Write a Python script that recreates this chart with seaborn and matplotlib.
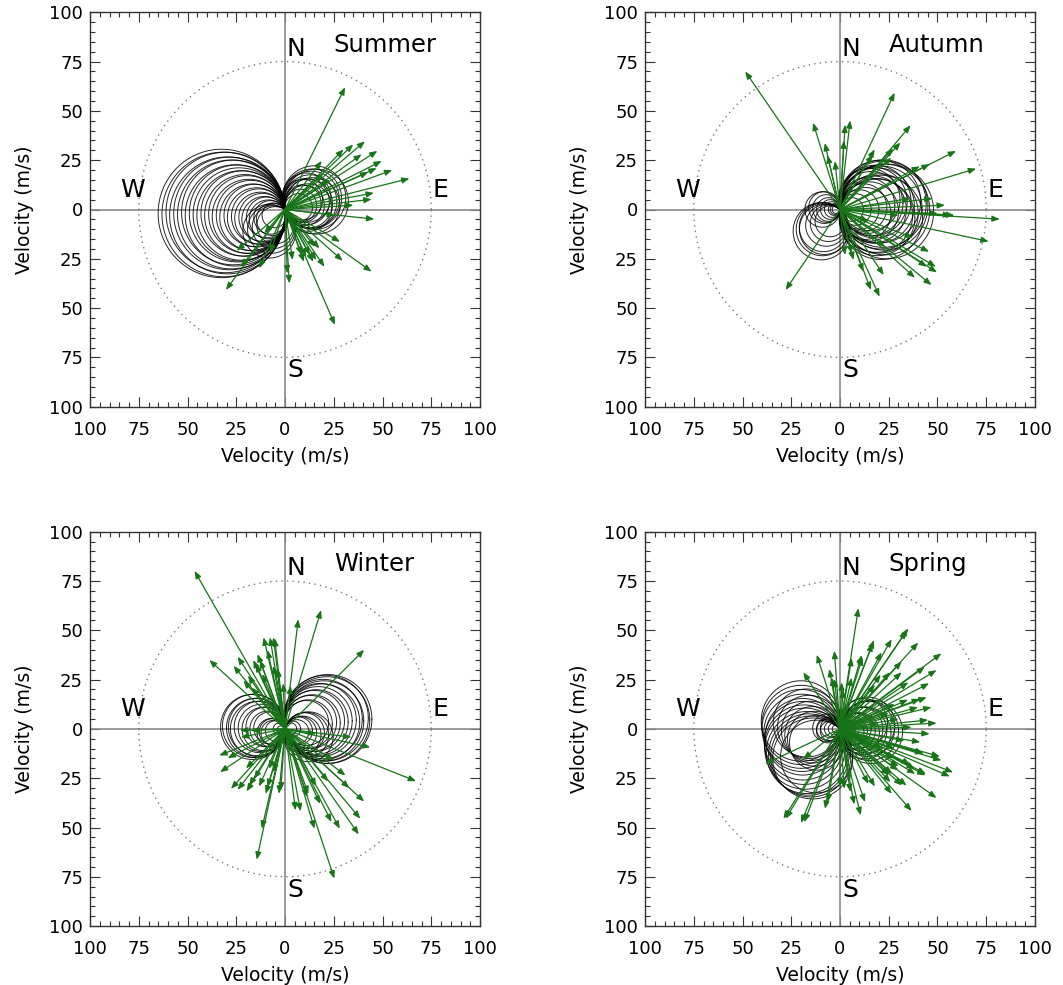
import numpy as np
import pandas as pd
import matplotlib
matplotlib.use("Agg")
import matplotlib.pyplot as plt
import seaborn as sns
from matplotlib.ticker import MultipleLocator, FuncFormatter

# ---------------- data ----------------
seasons = ["Summer", "Autumn", "Winter", "Spring"]

# circle centres (each circle passes through the origin)
summer_cx = [-32.5, -31.5, -30.5, -29.5, -28.5, -27.5, -26.5, -25.5, -24.5, -23.5, -22.5, -21.5, -20.5,
             -19.5, -18.5, -17.5, -16.5, -15.5, -14.5, -13.5, -12.5, -11.5, -10.5, -9.5, -8.5, -7.5,
             -6.5, -5.5, -7, -6, -5, -8, 15, 14, 13.5, 13, 12, 11, 10, 9, 8, 7, 16, 14, 12, 11, 9]
summer_cy = [-2, -2.5, -1.5, -3, -2, -2.5, -1.5, -3, -2, -2.5, -3, -2, -3,
             -2.5, -3.5, -3, -4, -3, -4, -3.5, -4.5, -4, -5, -4, -5, -4,
             -5, -3, -10, -9, -8, -11, 6, 5.5, 5, 4, 3, 4, 2, 3, 2, 1, 4, 2, 1, 6, 5]

autumn_cx = [23, 22.5, 22, 21, 20.5, 20, 19, 18.5, 18, 17, 16, 15, 14, 13, 12, 10, 8, 6,
             24, 21, 19, 17, 15, -9, -8, -7, -6, -5, -4, -3, -2.5, -2,
             -9.5, -9, -8.5, -8, -7, -6, -5]
autumn_cy = [0, 2, 3, 1, 4, -2, 2, -3, 4, 0, 3, -1, 2, -2, 1, 0, 0, 0,
             -1, -4, -4, 4, 5, 0, 1, 0.5, 0, 0, 0, 0, 0, 0,
             -11, -10, -9, -10, -8, -7, -6]

winter_cx = [22, 21.5, 21, 20, 19.5, 19, 18, 17, 16, 15, 14, 13, 12, 11,
             12, 11, 10, 9, 8, 7, 6, 4, 3,
             -16.5, -16, -15, -14.5, -14, -13, -12, -11, -10, -9, -8,
             -7, -6.5, -6, -5, -3, -2]
winter_cy = [5, 4.5, 5.5, 4, 5, 3.5, 4.5, 4, 3.5, 4, 3, 3.5, 2.5, 3,
             -4, -3, -2, -3, -2, -1, -1.5, 0, 0,
             1, 1.5, 0.5, 1, 0, 1, 0.5, 0, 1, 0, 0.5,
             -2, -1.5, -2, -1, 0, -0.5]

spring_cx = [-20, -20, -20, -19.5, -19, -19, -18.5, -18, -17, -16, -15, -14, -12,
             -17, -16, -15, -14, -13, -12,
             -7, -6, -5, -4, -3, -2, -6, -5,
             16, 15, 14, 13, 12, 11, 10, 9, 8, 7, 6, 4, 3.5, 14, 12]
spring_cy = [4, 2, 0, -2, -4, -6, -8, -10, -12, -13, -14, -15, -14,
             3, 1, -1, -3, -5, -7,
             0.5, 0, 0.5, 0, 0, 0, -1, -1,
             -1.5, -1, 0, -2, -1, 0, -2, -1, 0, -1, -2, 0, 0, 2, 3]

# arrow tips (east, north components, m/s)
summer_u = [30.8, 41, 35, 30, 39.3, 47.4, 49.6, 47, 42.7, 55, 63.8, 18.8, 45.6, 44.4, 35, 45.8,
            28.2, 44.4, 29.6, 20.2, 16, 25.6, 2.2, 1.2, 3.9, 8.5, 10.8, 12.8, 14.5, 17.6, 15.4,
            9.7, 19.6, 23, 25.6, -30.3, -24.8, -22.6, -13.2, -10.6, -7.7]
summer_v = [62, 34.6, 33, 30.5, 28, 29.7, 24.6, 21, 19, 20, 15.7, 24.6, 8.4, 5.2, 2.2, -4.9,
            -16.4, -31.5, -26, -29, -25.6, -58.5, -37.4, -32.4, -25.6, -23, -24, -23, -26.5, -19.7, -18.9,
            -26.5, 18.2, 15, -2.9, -40.8, -20.9, -29, -29.8, -12, -22]

autumn_u = [-48.6, -13.8, -7.8, -6.4, -2.6, 2.6, 5.2, 2, 28, 36.2, 31, 27.2, 26.2, 17.8, 16.7,
            59.5, 46, 40.9, 69.8, 47.4, 53.8, 58.6, 81.9, 76.2, 36, 37.4, 45.7, 49.1, 49.7, 46.9,
            38.4, 22.4, 20.3, 15.9, 12, 6.9, 2.6, 6, 44.5, -27.9, 14.7, 23, 30, 57, 50]
autumn_v = [70, 44, 33.7, 27.5, 24.5, 43, 45.2, 35, 59.2, 42.7, 34, 31, 26.3, 30.5, 28,
            29.7, 23, 21.9, 20.7, 5.6, 2.2, -2.9, -4.9, -16.2, 5.6, -14.3, -21.4, -29, -31.9, -38.3,
            -34.6, -33.2, -44.2, -40.8, -31.5, -25.6, -23.1, -22.3, -29, -40.8, -6.2, -19, -3, -2.8, -2]

winter_u = [-46.4, -38.8, -24.3, -26.4, -21.3, -16.3, -14.1, -15, -12.8, -11, -7.7, -6, -5.3, -6,
            -3.9, -0.9, -11.6, 6.8, 18.5, 40.6, 2.9, -9, -19, -4, -17,
            -33.7, -29.4, -33.3, -23, -17.5, -27.7, -24.3, -19.7, -18.4, -13.3, -9.9, -9, -3.1,
            -2.2, -11.9, -14.5, -15.8, -8.2, -22.6, -6, -20,
            5.4, 8, 11.4, 15.1, 23.8, 28.1, 37.8, 38.6, 40.6, 25.3, 31, 22.1, 67.2, 43.7, 34, 25,
            16, 12, 18, 16, 33]
winter_v = [80.1, 34.9, 36.6, 32, 24.5, 34.9, 37.9, 32.9, 34.9, 46.4, 46.4, 46.4, 46, 32,
            30.4, 23.1, 27.8, 55.6, 60.2, 40.1, 21.9, 40, 27, 31, 21,
            -13.5, -14.8, -21.9, -0.8, -0.8, -30.4, -30.9, -31.7, -28.7, -29.2, -32.9, -29.5, -32.9,
            -31.2, -50.6, -66.3, -25.3, -20.2, -4.2, -22, -20,
            -41.3, -41.8, -34.6, -50.6, -47.2, -50.6, -53.5, -45.5, -36.8, -75.9, -23.6, -26.6, -26.5,
            -9.3, -4.2, -16, -2.5, -33, -38, -29, -30]

spring_u = [9.4, 35, 34.1, 40.1, 52, 26.5, 21.3, 17.4, 16.7, 11.1, 11.6, 6, -2.9, -11.9, -18.8,
            -5.5, -4.3, -2.9, 0.9, 6, 31.6, 31.6, 43.5, 49.5, 45.7, 25.6, 35, 41, 44.4, 46.9, 40,
            49.5, 45.2, 46, 36.7, 28, 17.9, 20.9, 34.9, 1.7, 30, 25, 20,
            51.2, 52, 58, 56.3, 42.7, 43.8, 49.5, 36.7, 34.1, 26.5, 25.1, 17.9, 14.5, 12.8, 10.6,
            7.3, 5.1, 38.4, 29.9, 28, 42.9, 41.2, 44, 38.6, 25.9, 31.8, 26.7, 5.4, 33, 28, 22,
            36, 30,
            -38.4, -18.8, -29, -27.8, -20, -18.3, -7.7, -6.3, 2.2, 0]
spring_v = [61.2, 50.9, 49.7, 43.8, 38.3, 45.5, 38.8, 45, 43.3, 37.4, 36.3, 36, 39.6, 37.6, 28.7,
            30.4, 26.1, 25.3, 23.6, 26, 34.2, 28.7, 31.5, 29.8, 23.1, 28.7, 23.6, 15.2, 16, 11, 11,
            3, 4.5, -2.5, 0.8, 12.6, 22.4, 27.5, 14.8, 20, 5, 8, 3,
            -14, -16, -22, -24.1, -12.3, -23.6, -35, -41.6, -28.7, -32.9, -23.6, -29.2, -27.8, -37.1,
            -43.8, -38.3, -26.1, -20.2, -21, -10, -12.6, -6.7, -22.8, -22.8, -27, -28.7, -22.8, -32,
            -6, -15, -10, -18, -19,
            -17.7, -15.2, -45.5, -45.5, -47.7, -47.2, -40.5, -37.1, -30.4, -29.5]

circles = {"Summer": (summer_cx, summer_cy), "Autumn": (autumn_cx, autumn_cy),
           "Winter": (winter_cx, winter_cy), "Spring": (spring_cx, spring_cy)}
arrows = {"Summer": (summer_u, summer_v), "Autumn": (autumn_u, autumn_v),
          "Winter": (winter_u, winter_v), "Spring": (spring_u, spring_v)}

tick_values = [-100, -75, -50, -25, 0, 25, 50, 75, 100]
ref_radius = 75

# ---------------- style ----------------
sns.set_theme(style="ticks")
plt.rcParams["font.family"] = ["DejaVu Sans"]
GREEN = "#177417"
FRAME = "#333333"

fig = plt.figure(figsize=(10.63, 9.85), dpi=100)
W, H = 1063.0, 985.0
boxes = {"Summer": (90, 12.3), "Autumn": (645, 12.3), "Winter": (90, 531.7), "Spring": (645, 531.7)}
bw, bh = 390.0, 394.4

theta = np.linspace(0, 2 * np.pi, 361)

for name in seasons:
    x0, y0 = boxes[name]
    ax = fig.add_axes([x0 / W, 1 - (y0 + bh) / H, bw / W, bh / H])

    # circles via seaborn
    cx, cy = circles[name]
    rows = []
    for i, (a, b) in enumerate(zip(cx, cy)):
        r = np.hypot(a, b)
        rows.append(pd.DataFrame({"x": a + r * np.cos(theta), "y": b + r * np.sin(theta), "id": i}))
    df = pd.concat(rows, ignore_index=True)
    sns.lineplot(data=df, x="x", y="y", units="id", estimator=None, sort=False,
                 color="black", lw=0.7, alpha=0.85, ax=ax, legend=False, zorder=2)

    ax.axhline(0, color="#8a8a8a", lw=1.2, zorder=1)
    ax.axvline(0, color="#8a8a8a", lw=1.2, zorder=1)
    ax.plot(ref_radius * np.cos(theta), ref_radius * np.sin(theta),
            ls=(0, (1, 3)), color="#777777", lw=1.0, zorder=1)

    u, v = arrows[name]
    for a, b in zip(u, v):
        ax.annotate("", xy=(a, b), xytext=(0, 0),
                    arrowprops=dict(arrowstyle="-|>,head_length=0.55,head_width=0.22",
                                    color=GREEN, lw=0.9, shrinkA=0, shrinkB=0,
                                    mutation_scale=8), zorder=3)

    ax.set_xlim(-100, 100)
    ax.set_ylim(-100, 100)
    ax.set_xticks(tick_values)
    ax.set_yticks(tick_values)
    fmt = FuncFormatter(lambda val, pos: f"{abs(int(round(val)))}")
    ax.xaxis.set_major_formatter(fmt)
    ax.yaxis.set_major_formatter(fmt)
    ax.xaxis.set_minor_locator(MultipleLocator(5))
    ax.yaxis.set_minor_locator(MultipleLocator(5))
    ax.tick_params(which="both", direction="in", top=True, right=True, color=FRAME, width=0.8)
    ax.tick_params(which="major", length=7, labelsize=13, labelcolor="black")
    ax.tick_params(which="minor", length=3.5)
    ax.tick_params(axis="x", which="major", pad=10)
    ax.tick_params(axis="y", which="major", pad=5)
    for s in ax.spines.values():
        s.set_color(FRAME)
        s.set_linewidth(1.0)

    ax.set_xlabel("Velocity (m/s)", fontsize=13.5, labelpad=6, color="black")
    ax.set_ylabel("Velocity (m/s)", fontsize=13.5, labelpad=11, color="black")

    ax.text(1, 75.5, "N", fontsize=18, ha="left", va="bottom", color="black")
    ax.text(1, -75.5, "S", fontsize=18, ha="left", va="top", color="black")
    ax.text(-78, 4, "W", fontsize=18, ha="center", va="bottom", color="black")
    ax.text(75.5, 4, "E", fontsize=18, ha="left", va="bottom", color="black")
    ax.text(25, 80, name, fontsize=17.5, ha="left", va="baseline", color="black")

fig.savefig("out.png", dpi=100)
